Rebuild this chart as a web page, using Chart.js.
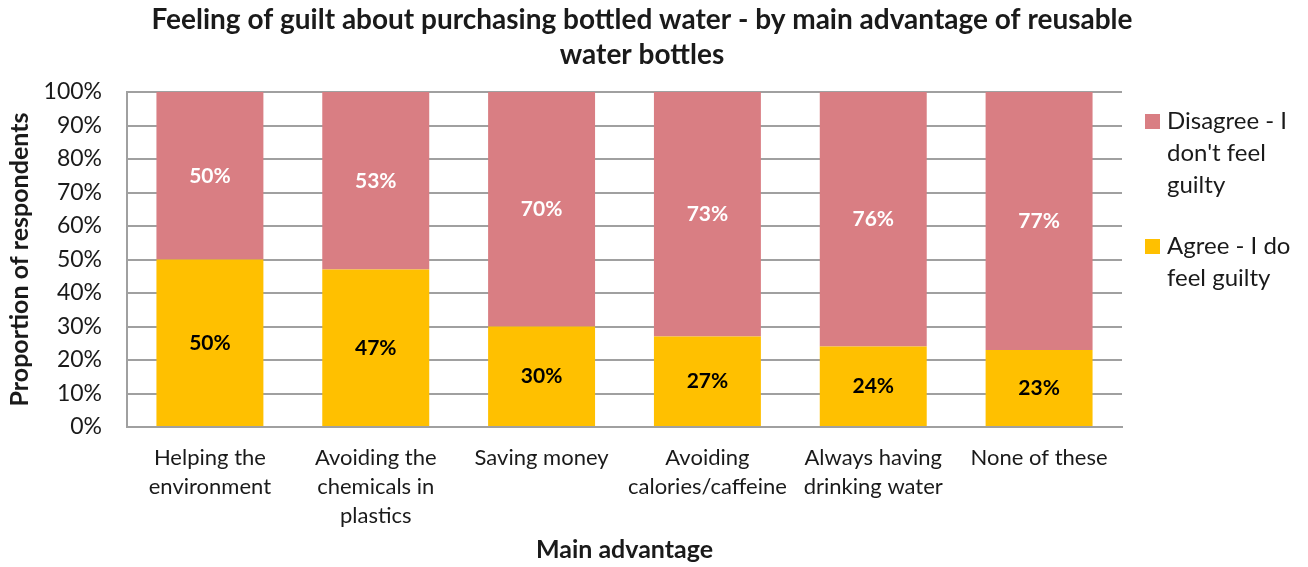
<!DOCTYPE html>
<html>
<head>
<meta charset="utf-8">
<script src="https://cdn.jsdelivr.net/npm/chart.js@4/dist/chart.umd.min.js"></script>
<style>
  html, body { margin: 0; padding: 0; background: #ffffff; }
  #wrap { width: 1308px; height: 567px; }
</style>
</head>
<body>
<div id="wrap"><canvas id="c" width="1308" height="567"></canvas></div>
<script>
// Categories (main advantage of reusable bottles), one label per bar
const categories = [
  ["Helping the", "environment"],
  ["Avoiding the", "chemicals in", "plastics"],
  "Saving money",
  ["Avoiding", "calories/caffeine"],
  ["Always having", "drinking water"],
  "None of these"
];

// Share of respondents (%) per category
const agreeValues    = [50, 47, 30, 27, 24, 23];
const disagreeValues = [50, 53, 70, 73, 76, 77];

// Series names, split into the lines shown in the legend
const agreeName    = ["Agree - I do", "feel guilty"];
const disagreeName = ["Disagree - I", "don't feel", "guilty"];

// Y axis tick values
const yTickValues = [0, 10, 20, 30, 40, 50, 60, 70, 80, 90, 100];

const titleLines = [
  "Feeling of guilt about purchasing bottled water - by main advantage of reusable",
  "water bottles"
];
const xTitle = "Main advantage";
const yTitle = "Proportion of respondents";

const FONT = "Lato, 'Open Sans', sans-serif";
const PINK = "#D97E83";
const GOLD = "#FFC000";
const TEXT = "#1a1a1a";
const GRID = "#a0a0a0";

// Title, legend and in-bar value labels
const decorations = {
  id: "decorations",
  afterDraw(chart) {
    const ctx = chart.ctx;
    ctx.save();

    // Title
    ctx.fillStyle = TEXT;
    ctx.font = "bold 28px " + FONT;
    ctx.textAlign = "center";
    ctx.textBaseline = "middle";
    titleLines.forEach((line, i) => ctx.fillText(line, 642, 20 + i * 35));

    // Value labels centred in each bar segment
    ctx.font = "bold 21px " + FONT;
    chart.data.datasets.forEach((ds, di) => {
      const meta = chart.getDatasetMeta(di);
      meta.data.forEach((bar, i) => {
        const v = ds.data[i];
        const yMid = (bar.y + bar.base) / 2;
        ctx.fillStyle = ds.labelColor;
        ctx.fillText(v + "%", bar.x, yMid);
      });
    });

    // Legend on the right
    ctx.font = "24px " + FONT;
    ctx.textAlign = "left";
    const items = [
      { color: PINK, lines: chart.data.datasets[1].legendLines, y: 121 },
      { color: GOLD, lines: chart.data.datasets[0].legendLines, y: 246 }
    ];
    items.forEach(item => {
      ctx.fillStyle = item.color;
      ctx.fillRect(1145, item.y - 7, 15, 15);
      ctx.fillStyle = TEXT;
      item.lines.forEach((ln, j) => ctx.fillText(ln, 1167, item.y + j * 32));
    });

    ctx.restore();
  }
};

new Chart(document.getElementById("c"), {
  type: "bar",
  data: {
    labels: categories,
    datasets: [
      {
        label: agreeName.join(" "),
        legendLines: agreeName,
        data: agreeValues,
        backgroundColor: GOLD,
        labelColor: "#000000",
        barPercentage: 0.645,
        categoryPercentage: 1.0
      },
      {
        label: disagreeName.join(" "),
        legendLines: disagreeName,
        data: disagreeValues,
        backgroundColor: PINK,
        labelColor: "#ffffff",
        barPercentage: 0.645,
        categoryPercentage: 1.0
      }
    ]
  },
  options: {
    responsive: false,
    animation: false,
    devicePixelRatio: 1,
    layout: { padding: { top: 92, right: 186, left: 0, bottom: 0 } },
    plugins: {
      legend: { display: false },
      title: { display: false },
      tooltip: { enabled: false }
    },
    scales: {
      x: {
        stacked: true,
        grid: { display: false, drawTicks: false },
        border: { display: true, color: GRID, width: 2 },
        ticks: {
          color: TEXT,
          font: { family: FONT, size: 22, lineHeight: 1.33 },
          padding: 16,
          maxRotation: 0,
          autoSkip: false
        },
        title: {
          display: true,
          text: xTitle,
          color: TEXT,
          font: { family: FONT, size: 25, weight: "bold" },
          padding: { top: 0, bottom: 2 }
        },
        afterFit(scale) { scale.height = 140; }
      },
      y: {
        stacked: true,
        min: 0,
        max: 100,
        afterBuildTicks(scale) { scale.ticks = yTickValues.map(v => ({ value: v })); },
        grid: { color: GRID, lineWidth: 2, drawTicks: false },
        border: { display: true, color: GRID, width: 2 },
        ticks: {
          color: TEXT,
          font: { family: FONT, size: 23 },
          padding: 25,
          callback: v => v + "%"
        },
        title: {
          display: true,
          text: yTitle,
          color: TEXT,
          font: { family: FONT, size: 25, weight: "bold" },
          padding: { top: 5, bottom: 0 }
        },
        afterFit(scale) { scale.width = 127; }
      }
    }
  },
  plugins: [decorations]
});
</script>
</body>
</html>
